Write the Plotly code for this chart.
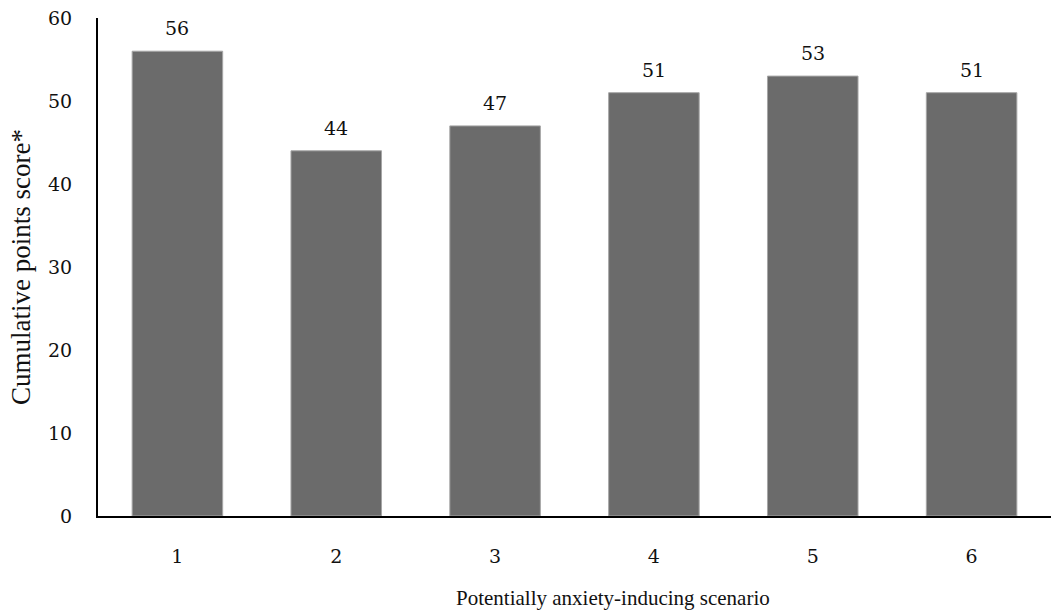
import plotly.graph_objects as go

# Scenario numbers and cumulative scores
scenarios = [1, 2, 3, 4, 5, 6]
scores = [56, 44, 47, 51, 53, 51]
y_ticks = [0, 10, 20, 30, 40, 50, 60]

num_font = dict(family="DejaVu Serif, serif", size=19, color="#111111")
xtitle_font = dict(family="Liberation Serif, serif", size=21, color="#111111")
ytitle_font = dict(family="Liberation Serif, serif", size=27, color="#111111")

fig = go.Figure()
fig.add_trace(go.Bar(
    x=scenarios,
    y=scores,
    marker=dict(color="#6b6b6b", line=dict(color="#a6a6a6", width=1)),
    width=0.57,
    hoverinfo="skip",
))

# Value labels above each bar
for s, v in zip(scenarios, scores):
    fig.add_annotation(x=s, y=v, text=str(v), showarrow=False,
                       yanchor="bottom", yshift=10, font=num_font)

# Horizontal axis title, set to the right of the plot centre
fig.add_annotation(xref="paper", yref="paper", x=0.54, y=-0.137,
                   text="Potentially anxiety-inducing scenario",
                   showarrow=False, xanchor="center", yanchor="top",
                   font=xtitle_font)

fig.update_layout(
    width=1051, height=616,
    margin=dict(l=98, r=0, t=18, b=100),
    plot_bgcolor="white", paper_bgcolor="white",
    showlegend=False,
    xaxis=dict(
        range=[0.5, 6.5], tickvals=scenarios,
        showline=True, linecolor="black", linewidth=2,
        ticks="", tickfont=num_font, ticklabelstandoff=22,
        showgrid=False, zeroline=False,
    ),
    yaxis=dict(
        range=[0, 60], tickvals=y_ticks,
        showline=True, linecolor="black", linewidth=2,
        ticks="", tickfont=num_font, ticklabelstandoff=20,
        showgrid=False, zeroline=False,
        title=dict(text="Cumulative points score*", font=ytitle_font, standoff=10),
    ),
)

fig.write_html("out.html")
